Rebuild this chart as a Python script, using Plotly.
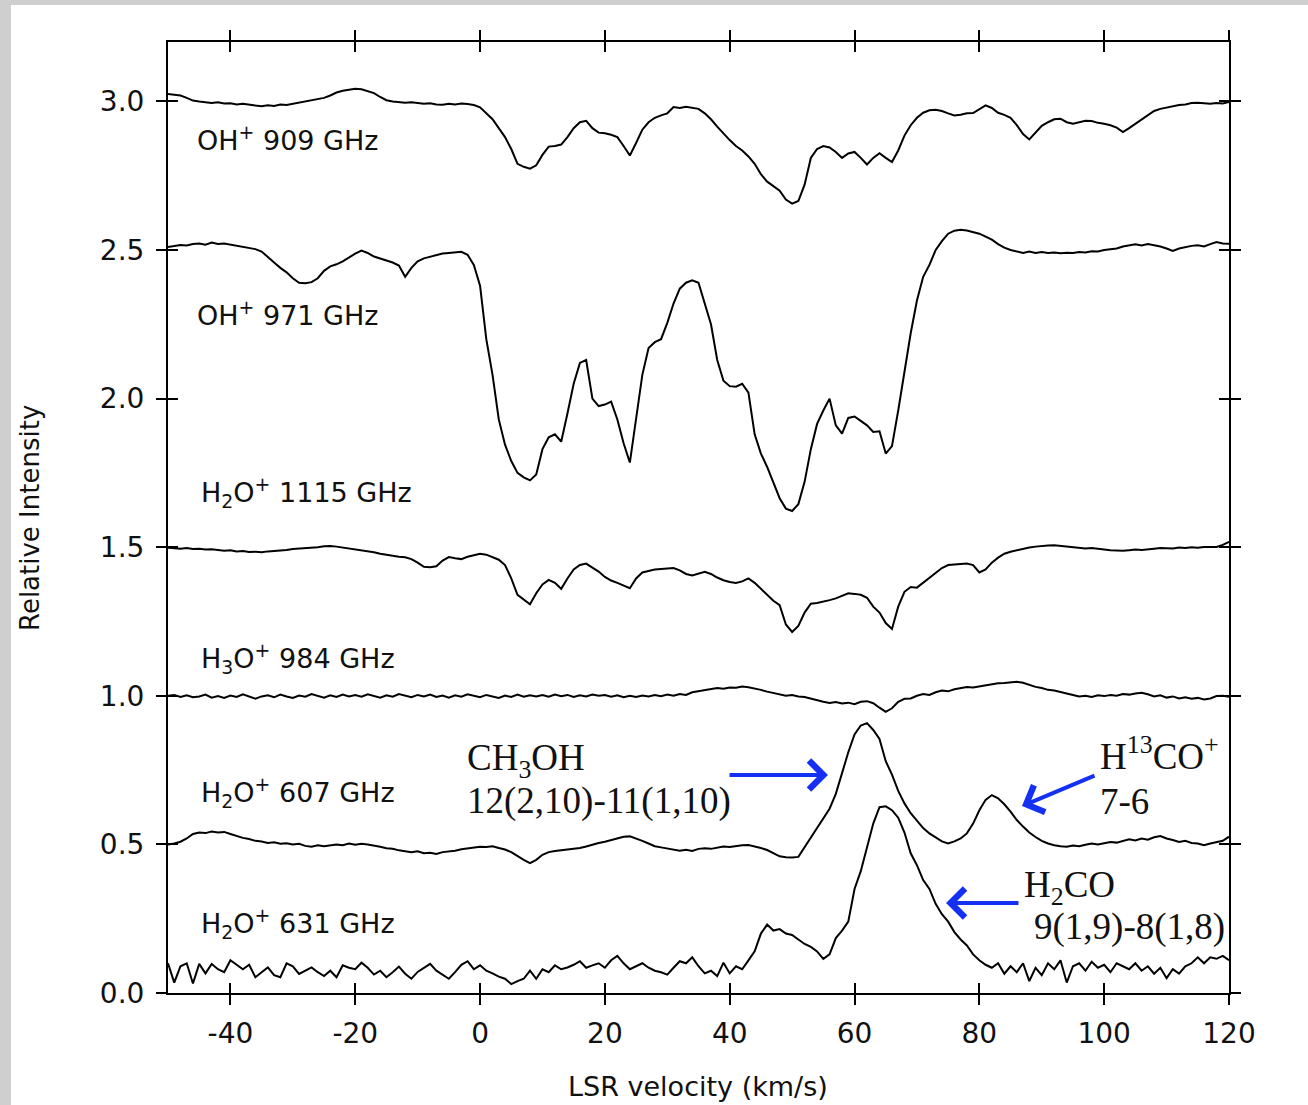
import plotly.graph_objects as go

# ---------------- data ----------------
velocity = list(range(-50, 121))  # km/s sample grid

oh_909 = [
    3.025, 3.022, 3.020, 3.012, 3.003, 3.000, 2.998, 2.995, 2.997, 2.993,
    2.994, 2.990, 2.992, 2.988, 2.986, 2.984, 2.987, 2.985, 2.990, 2.988,
    2.992, 2.994, 2.998, 3.003, 3.008, 3.012, 3.020, 3.030, 3.036, 3.040,
    3.043, 3.041, 3.035, 3.028, 3.015, 3.004, 3.000, 2.998, 2.996, 2.997,
    2.995, 2.992, 2.994, 2.990, 2.989, 2.992, 2.990, 2.993, 2.991, 2.988,
    2.980, 2.960, 2.940, 2.910, 2.880, 2.840, 2.790, 2.780, 2.774, 2.785,
    2.820, 2.848, 2.850, 2.855, 2.880, 2.910, 2.930, 2.935, 2.910, 2.895,
    2.893, 2.888, 2.880, 2.850, 2.818, 2.860, 2.905, 2.930, 2.945, 2.953,
    2.960, 2.981, 2.978, 2.982, 2.978, 2.975, 2.960, 2.940, 2.915, 2.891,
    2.870, 2.850, 2.835, 2.815, 2.790, 2.755, 2.730, 2.715, 2.700, 2.670,
    2.656, 2.665, 2.720, 2.810, 2.840, 2.850, 2.845, 2.830, 2.810, 2.825,
    2.830, 2.810, 2.788, 2.810, 2.826, 2.810, 2.796, 2.835, 2.885, 2.920,
    2.945, 2.962, 2.970, 2.972, 2.968, 2.960, 2.953, 2.955, 2.960, 2.961,
    2.975, 2.987, 2.978, 2.962, 2.955, 2.945, 2.920, 2.890, 2.872, 2.895,
    2.918, 2.930, 2.940, 2.942, 2.930, 2.925, 2.930, 2.935, 2.934, 2.928,
    2.925, 2.920, 2.912, 2.897, 2.910, 2.925, 2.940, 2.955, 2.968, 2.975,
    2.980, 2.985, 2.988, 2.990, 2.995, 2.996, 2.993, 2.992, 2.995, 2.993,
    2.998,
]

oh_971 = [
    2.510, 2.513, 2.517, 2.515, 2.520, 2.522, 2.518, 2.525, 2.520, 2.522,
    2.518, 2.514, 2.510, 2.506, 2.503, 2.495, 2.475, 2.458, 2.440, 2.425,
    2.405, 2.390, 2.388, 2.392, 2.405, 2.430, 2.445, 2.452, 2.462, 2.475,
    2.488, 2.498, 2.490, 2.478, 2.472, 2.466, 2.458, 2.448, 2.410, 2.440,
    2.462, 2.472, 2.478, 2.483, 2.488, 2.490, 2.492, 2.494, 2.484, 2.450,
    2.380, 2.200, 2.080, 1.930, 1.845, 1.790, 1.750, 1.735, 1.725, 1.745,
    1.830, 1.870, 1.880, 1.855, 1.950, 2.050, 2.120, 2.130, 2.000, 1.975,
    1.980, 1.990, 1.930, 1.850, 1.785, 1.940, 2.080, 2.170, 2.190, 2.200,
    2.255, 2.320, 2.370, 2.390, 2.398, 2.390, 2.320, 2.250, 2.130, 2.060,
    2.042, 2.040, 2.050, 2.020, 1.880, 1.815, 1.770, 1.714, 1.665, 1.630,
    1.622, 1.645, 1.720, 1.830, 1.915, 1.960, 2.000, 1.910, 1.882, 1.935,
    1.940, 1.925, 1.910, 1.888, 1.890, 1.815, 1.840, 1.960, 2.090, 2.220,
    2.330, 2.410, 2.450, 2.500, 2.530, 2.555, 2.565, 2.568, 2.566, 2.560,
    2.555, 2.545, 2.535, 2.520, 2.508, 2.500, 2.495, 2.490, 2.495, 2.490,
    2.493, 2.490, 2.492, 2.489, 2.491, 2.490, 2.493, 2.492, 2.496, 2.495,
    2.500, 2.502, 2.505, 2.512, 2.515, 2.519, 2.515, 2.520, 2.516, 2.512,
    2.505, 2.497, 2.505, 2.510, 2.514, 2.516, 2.512, 2.520, 2.527, 2.522,
    2.521,
]

h2o_1115 = [
    1.498, 1.497, 1.495, 1.497, 1.494, 1.495, 1.492, 1.493, 1.490, 1.488,
    1.490, 1.486, 1.487, 1.484, 1.485, 1.483, 1.486, 1.487, 1.490, 1.491,
    1.494, 1.495, 1.497, 1.499, 1.500, 1.503, 1.504, 1.502, 1.499, 1.496,
    1.493, 1.490, 1.487, 1.483, 1.478, 1.474, 1.470, 1.468, 1.466, 1.460,
    1.448, 1.434, 1.433, 1.436, 1.455, 1.467, 1.463, 1.460, 1.468, 1.474,
    1.478, 1.475, 1.467, 1.458, 1.440, 1.395, 1.340, 1.325, 1.308, 1.345,
    1.375, 1.390, 1.380, 1.360, 1.395, 1.425, 1.440, 1.445, 1.432, 1.418,
    1.400, 1.388, 1.380, 1.372, 1.362, 1.395, 1.415, 1.420, 1.425, 1.427,
    1.428, 1.430, 1.422, 1.410, 1.405, 1.410, 1.417, 1.410, 1.398, 1.389,
    1.383, 1.380, 1.385, 1.395, 1.380, 1.360, 1.340, 1.320, 1.305, 1.240,
    1.215, 1.235, 1.280, 1.310, 1.312, 1.316, 1.322, 1.328, 1.336, 1.345,
    1.343, 1.340, 1.330, 1.300, 1.280, 1.245, 1.225, 1.300, 1.350, 1.366,
    1.364, 1.380, 1.397, 1.415, 1.430, 1.440, 1.442, 1.444, 1.445, 1.440,
    1.415, 1.425, 1.448, 1.465, 1.478, 1.485, 1.490, 1.495, 1.499, 1.502,
    1.505, 1.506, 1.507, 1.505, 1.503, 1.501, 1.498, 1.496, 1.497, 1.494,
    1.492, 1.490, 1.489, 1.488, 1.490, 1.492, 1.491, 1.494, 1.495, 1.497,
    1.496, 1.496, 1.499, 1.497, 1.500, 1.498, 1.501, 1.500, 1.501, 1.508,
    1.518,
]

h3o_984 = [
    1.000, 1.003, 0.996, 1.002, 0.995, 0.998, 1.004, 0.994, 0.999, 0.993,
    1.001, 0.996, 1.005, 0.997, 0.990, 0.998, 1.002, 0.995, 1.004, 0.998,
    0.993, 1.001, 0.997, 1.006, 0.999, 0.994, 1.002, 0.996, 1.004, 0.998,
    1.003, 0.997, 1.005, 0.999, 0.994, 1.002, 0.997, 1.006, 1.000, 0.995,
    1.003, 0.998, 1.004, 0.996, 1.001, 0.994, 1.002, 0.997, 1.005, 0.999,
    0.995, 1.003, 0.998, 0.993, 1.001, 0.996, 1.004, 0.997, 1.002, 0.998,
    1.003, 0.997, 1.004, 0.999, 1.003, 0.996, 1.002, 0.998, 1.004, 1.000,
    1.003, 0.997, 1.002, 0.995, 1.000, 0.996, 1.001, 0.998, 1.003, 0.999,
    1.004, 1.000, 1.006, 1.003, 1.012, 1.015, 1.019, 1.022, 1.026, 1.024,
    1.028, 1.027, 1.031, 1.029, 1.025, 1.020, 1.014, 1.010, 1.006, 1.000,
    1.003, 0.998, 0.996, 0.990, 0.985, 0.980, 0.976, 0.979, 0.974, 0.977,
    0.972, 0.980, 0.982, 0.975, 0.960, 0.946, 0.958, 0.980, 0.990, 0.991,
    1.000, 1.006, 1.003, 1.012, 1.018, 1.015, 1.022, 1.025, 1.030, 1.028,
    1.032, 1.035, 1.038, 1.042, 1.043, 1.046, 1.047, 1.044, 1.036, 1.030,
    1.026, 1.020, 1.018, 1.012, 1.008, 1.003, 0.998, 1.000, 0.996, 1.002,
    0.999, 1.003, 1.000, 1.006, 1.004, 1.008, 1.010, 1.005, 0.998, 1.002,
    0.994, 0.998, 0.991, 0.995, 0.990, 0.993, 0.988, 0.991, 0.999, 1.000,
    0.997,
]

h2o_607 = [
    0.500, 0.503, 0.509, 0.520, 0.535, 0.540, 0.538, 0.543, 0.540, 0.542,
    0.535, 0.528, 0.522, 0.518, 0.512, 0.510, 0.505, 0.507, 0.502, 0.504,
    0.500, 0.502, 0.495, 0.492, 0.497, 0.494, 0.498, 0.500, 0.497, 0.503,
    0.499, 0.502, 0.500, 0.497, 0.492, 0.487, 0.485, 0.480, 0.476, 0.474,
    0.477, 0.470, 0.472, 0.468, 0.474, 0.476, 0.479, 0.484, 0.487, 0.490,
    0.492, 0.491, 0.494, 0.488, 0.483, 0.474, 0.460, 0.448, 0.437, 0.448,
    0.465, 0.474, 0.478, 0.480, 0.483, 0.485, 0.488, 0.493, 0.500, 0.505,
    0.509, 0.515, 0.520, 0.526, 0.527, 0.520, 0.512, 0.503, 0.494, 0.490,
    0.486, 0.483, 0.479, 0.482, 0.478, 0.485, 0.487, 0.485, 0.490, 0.493,
    0.491, 0.495, 0.497, 0.498, 0.494, 0.488, 0.481, 0.470, 0.460, 0.457,
    0.456, 0.458, 0.490, 0.525, 0.555, 0.590, 0.620, 0.670, 0.740, 0.810,
    0.870, 0.900, 0.908, 0.885, 0.855, 0.780, 0.735, 0.680, 0.638, 0.605,
    0.580, 0.555, 0.537, 0.522, 0.510, 0.503, 0.510, 0.520, 0.537, 0.570,
    0.615, 0.650, 0.666, 0.655, 0.635, 0.610, 0.582, 0.560, 0.540, 0.525,
    0.512, 0.503, 0.497, 0.494, 0.492, 0.496, 0.494, 0.499, 0.503, 0.500,
    0.505, 0.508, 0.506, 0.512, 0.517, 0.513, 0.520, 0.516, 0.524, 0.528,
    0.520, 0.515, 0.508, 0.512, 0.505, 0.503, 0.497, 0.503, 0.508, 0.512,
    0.526,
]

h2o_631 = [
    0.100, 0.035, 0.090, 0.100, 0.032, 0.098, 0.066, 0.098, 0.080, 0.070,
    0.110, 0.095, 0.080, 0.095, 0.053, 0.070, 0.086, 0.060, 0.053, 0.100,
    0.090, 0.064, 0.075, 0.086, 0.070, 0.057, 0.075, 0.053, 0.093, 0.085,
    0.080, 0.102, 0.085, 0.062, 0.075, 0.053, 0.070, 0.089, 0.065, 0.048,
    0.071, 0.085, 0.098, 0.075, 0.062, 0.048, 0.070, 0.095, 0.107, 0.080,
    0.093, 0.075, 0.066, 0.055, 0.048, 0.030, 0.040, 0.048, 0.075, 0.048,
    0.080, 0.070, 0.093, 0.080, 0.086, 0.095, 0.107, 0.085, 0.093, 0.100,
    0.085, 0.110, 0.125, 0.100, 0.080, 0.090, 0.100, 0.085, 0.075, 0.070,
    0.062, 0.085, 0.107, 0.100, 0.120, 0.090, 0.066, 0.075, 0.057, 0.102,
    0.066, 0.090, 0.080, 0.110, 0.140, 0.200, 0.230, 0.210, 0.215, 0.200,
    0.195, 0.180, 0.165, 0.155, 0.140, 0.115, 0.130, 0.185, 0.210, 0.240,
    0.350, 0.410, 0.490, 0.570, 0.625, 0.628, 0.615, 0.590, 0.540, 0.470,
    0.430, 0.380, 0.350, 0.300, 0.265, 0.240, 0.205, 0.180, 0.160, 0.130,
    0.110, 0.095, 0.085, 0.100, 0.065, 0.090, 0.070, 0.100, 0.040, 0.085,
    0.060, 0.100, 0.080, 0.110, 0.035, 0.090, 0.100, 0.075, 0.105, 0.085,
    0.095, 0.070, 0.100, 0.090, 0.080, 0.100, 0.075, 0.090, 0.065, 0.085,
    0.050, 0.080, 0.065, 0.090, 0.100, 0.120, 0.100, 0.120, 0.115, 0.125,
    0.110,
]

series = [oh_909, oh_971, h2o_1115, h3o_984, h2o_607, h2o_631]
for s in series:
    assert len(s) == len(velocity), len(s)

x_tickvals = [-40, -20, 0, 20, 40, 60, 80, 100, 120]
x_ticktext = ["-40", "-20", "0", "20", "40", "60", "80", "100", "120"]
y_tickvals = [0.0, 0.5, 1.0, 1.5, 2.0, 2.5, 3.0]

trace_labels = [
    "OH<sup>+</sup> 909 GHz",
    "OH<sup>+</sup> 971 GHz",
    "H<sub>2</sub>O<sup>+</sup> 1115 GHz",
    "H<sub>3</sub>O<sup>+</sup> 984 GHz",
    "H<sub>2</sub>O<sup>+</sup> 607 GHz",
    "H<sub>2</sub>O<sup>+</sup> 631 GHz",
]

# ---------------- figure ----------------
W, H = 1308, 1105
ML, MR, MT, MB = 168, 79, 42, 112
PW, PH = W - ML - MR, H - MT - MB

SANS = "DejaVu Sans"
SERIF = "Liberation Serif"
BLUE = "#1530f5"
TXT = "#111111"

fig = go.Figure()
for s in series:
    fig.add_trace(go.Scatter(x=velocity, y=s, mode="lines",
                             line=dict(color="black", width=2),
                             showlegend=False, hoverinfo="skip"))
# empty trace to activate the overlay axes (inner half of ticks)
fig.add_trace(go.Scatter(x=[], y=[], xaxis="x2", yaxis="y2", showlegend=False,
                         hoverinfo="skip"))

axis_common = dict(showgrid=False, zeroline=False, showline=True,
                   linecolor="black", linewidth=2, tickcolor="black",
                   tickwidth=2, ticklen=10)

fig.update_layout(
    width=W, height=H,
    margin=dict(l=ML, r=MR, t=MT, b=MB),
    paper_bgcolor="white", plot_bgcolor="white",
    xaxis=dict(range=[-50, 120], tickvals=x_tickvals, ticktext=x_ticktext,
               ticks="outside", mirror="ticks", automargin=False,
               tickfont=dict(family=SANS, size=28, color=TXT),
               ticklabelstandoff=4, **axis_common),
    yaxis=dict(range=[0, 3.2], tickvals=y_tickvals, tickformat=".1f",
               ticks="outside", mirror="ticks", automargin=False,
               tickfont=dict(family=SANS, size=28, color=TXT),
               ticklabelstandoff=6, **axis_common),
    xaxis2=dict(range=[-50, 120], tickvals=x_tickvals, overlaying="x",
                ticks="inside", mirror="ticks", showticklabels=False,
                side="bottom", anchor="y2", **axis_common),
    yaxis2=dict(range=[0, 3.2], tickvals=y_tickvals, overlaying="y",
                ticks="inside", mirror="ticks", showticklabels=False,
                side="left", anchor="x2", **axis_common),
)

def px_to_v(px):
    return (px - ML) / PW * 170 - 50

def py_to_y(py):
    return (H - MB - py) / PH * 3.2

annotations = []
label_pos = [(195, 138), (195, 313), (199, 492), (199, 658), (199, 792), (199, 923)]
for text, (px, py) in zip(trace_labels, label_pos):
    annotations.append(dict(x=px_to_v(px), y=py_to_y(py), xref="x", yref="y",
                            text=text, showarrow=False, xanchor="left",
                            yanchor="middle",
                            font=dict(family=SANS, size=27, color=TXT)))

serif_texts = [
    ("CH<sub>3</sub>OH", 466, 760),
    ("12(2,10)-11(1,10)", 466, 801),
    ("H<sup>13</sup>CO<sup>+</sup>", 1099, 753),
    ("7-6", 1099, 801),
    ("H<sub>2</sub>CO", 1023, 887),
    ("9(1,9)-8(1,8)", 1033, 927),
]
for text, px, py in serif_texts:
    annotations.append(dict(x=px_to_v(px), y=py_to_y(py), xref="x", yref="y",
                            text=text, showarrow=False, xanchor="left",
                            yanchor="middle", borderpad=0,
                            font=dict(family=SERIF, size=37, color=TXT)))

arrows = [((828, 775), (728, 775)), ((1022, 806), (1096, 775)), ((946, 903), (1020, 903))]
for (tx, ty), (sx, sy) in arrows:
    annotations.append(dict(x=px_to_v(tx), y=py_to_y(ty), ax=px_to_v(sx), ay=py_to_y(sy),
                            xref="x", yref="y", axref="x", ayref="y", text="",
                            showarrow=True, arrowhead=4, arrowsize=1.4,
                            arrowwidth=4, arrowcolor=BLUE, standoff=0))

annotations.append(dict(x=(30 - ML) / PW, y=(H - MB - 518) / PH, xref="paper", yref="paper",
                        xanchor="center", yanchor="middle",
                        text="Relative Intensity", textangle=-90, showarrow=False,
                        font=dict(family=SANS, size=26, color=TXT)))
annotations.append(dict(x=(698 - ML) / PW, y=(H - MB - 1086) / PH, xref="paper", yref="paper",
                        xanchor="center", yanchor="middle",
                        text="LSR velocity (km/s)", showarrow=False,
                        font=dict(family=SANS, size=27, color=TXT)))
fig.update_layout(annotations=annotations)

# grey slide border strips (left and top)
fig.update_layout(shapes=[
    dict(type="rect", xref="paper", yref="paper", layer="below",
         x0=-ML / PW, x1=(11 - ML) / PW, y0=-MB / PH, y1=(H - MB) / PH,
         fillcolor="#cfcfcf", line=dict(width=0)),
    dict(type="rect", xref="paper", yref="paper", layer="below",
         x0=-ML / PW, x1=(W - ML) / PW, y0=(H - MB - 5) / PH, y1=(H - MB) / PH,
         fillcolor="#cfcfcf", line=dict(width=0)),
])

fig.write_html("out.html",
               config={"displayModeBar": False},
               post_script="document.body.style.margin='0';"
                           "document.body.style.overflow='hidden';")
